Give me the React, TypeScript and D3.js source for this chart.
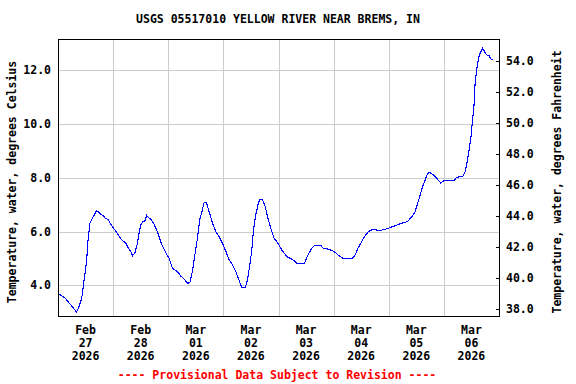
import React from 'react';
import * as d3 from 'd3';

// Hours after 2026-02-27 00:00 and the gage reading (degrees Celsius) at that time.
const hours = [
  0, 1.9, 3.4, 4.8, 6.3, 7.7, 8.0, 9.1, 10.3, 11.2, 11.8, 12.5, 13.1, 13.9, 14.7, 15.7, 16.7, 17.6, 18.3, 19.6,
  20.5, 21.8, 23.0, 24.4, 25.6, 26.9, 28.1, 29.5, 30.7, 31.7, 32.5, 33.5, 34.4, 35.3, 36.0, 36.9, 37.9, 38.6, 39.6,
  40.5, 41.6, 42.6, 43.6, 44.7, 45.7, 46.9, 48.4, 49.8, 52.0, 53.4, 54.9, 56.4, 57.4, 58.5, 59.7, 60.7, 61.7, 62.6,
  63.6, 64.6, 65.8, 67.3, 68.7, 70.1, 71.6, 73.1, 74.5, 76.0, 77.4, 78.8, 80.0, 81.5, 82.5, 83.5, 84.4, 85.1, 86.1,
  87.3, 88.0, 89.0, 90.2, 91.2, 92.6, 94.1, 95.6, 97.3, 98.4, 99.9, 101.4, 102.8, 104.3, 107.2, 108.2, 109.3, 110.5,
  111.9, 114.4, 115.4, 117.3, 119.5, 121.0, 122.4, 123.9, 128.2, 129.4, 130.4, 131.9, 133.0, 134.0, 135.2, 137.2,
  139.8, 142.7, 145.9, 149.7, 152.2, 154.1, 155.5, 156.6, 157.7, 158.7, 159.9, 160.9, 162.0, 163.4, 164.5, 165.7,
  166.7, 168.1, 172.5, 173.5, 176.2, 177.3, 178.3, 179.0, 179.8, 180.5, 181.1, 181.6, 182.4, 183.1, 183.8, 184.9,
  185.7, 186.6, 187.7, 188.5, 189.2,
];
const tempC = [
  3.7, 3.6, 3.5, 3.35, 3.2, 3.05, 3.0, 3.2, 3.5, 4.1, 4.45, 4.95, 5.7, 6.3, 6.45, 6.6, 6.78, 6.74, 6.66, 6.6,
  6.5, 6.44, 6.28, 6.1, 5.96, 5.78, 5.67, 5.57, 5.38, 5.26, 5.1, 5.22, 5.5, 5.94, 6.25, 6.37, 6.4, 6.6, 6.5,
  6.46, 6.31, 6.13, 5.91, 5.63, 5.42, 5.22, 5.0, 4.64, 4.51, 4.35, 4.23, 4.08, 4.1, 4.51, 5.2, 5.75, 6.44, 6.71,
  7.08, 7.08, 6.74, 6.31, 6.0, 5.81, 5.57, 5.26, 4.95, 4.76, 4.51, 4.2, 3.92, 3.92, 4.2, 4.76, 5.32, 6.06, 6.62,
  7.08, 7.2, 7.2, 6.93, 6.56, 6.13, 5.75, 5.59, 5.33, 5.2, 5.05, 4.99, 4.91, 4.8, 4.8, 5.01, 5.2, 5.38,
  5.49, 5.49, 5.38, 5.35, 5.29, 5.2, 5.1, 5.01, 5.01, 5.13, 5.35, 5.57, 5.75, 5.88, 6.0, 6.09,
  6.03, 6.09, 6.19, 6.31, 6.37, 6.56, 6.74, 7.06, 7.36, 7.67, 7.92, 8.17, 8.19, 8.11, 8.02, 7.9,
  7.8, 7.9, 7.9, 8.02, 8.05, 8.23, 8.67, 9.04, 9.53, 10.15, 10.65, 11.52, 12.07, 12.45, 12.63, 12.82,
  12.69, 12.57, 12.54, 12.41, 12.41,
];

const dayMonths = ['Feb', 'Feb', 'Mar', 'Mar', 'Mar', 'Mar', 'Mar', 'Mar'];
const dayNumbers = ['27', '28', '01', '02', '03', '04', '05', '06'];
const dayYears = ['2026', '2026', '2026', '2026', '2026', '2026', '2026', '2026'];
const celsiusTicks = [4, 6, 8, 10, 12];
const fahrenheitTicks = [38, 40, 42, 44, 46, 48, 50, 52, 54];

const title = 'USGS 05517010 YELLOW RIVER NEAR BREMS, IN';
const leftTitle = 'Temperature, water, degrees Celsius';
const rightTitle = 'Temperature, water, degrees Fahrenheit';
const footer = '---- Provisional Data Subject to Revision ----';

const W = 576;
const H = 384;
const left = 58;
const right = 499;
const top = 39;
const bottom = 316;
const font = '"DejaVu Sans Mono", monospace';

const start = Date.UTC(2026, 1, 27);
const hourMs = 3600 * 1000;

export default function App() {
  const x = d3.scaleUtc().domain([new Date(start), new Date(start + 8 * 24 * hourMs)]).range([left, right]);
  const y = d3.scaleLinear().domain([2.86, 13.16]).range([bottom, top]);
  // the Fahrenheit axis is drawn on its own scale, it does not line up exactly with the Celsius one
  const yF = d3.scaleLinear().domain([37.55, 55.4]).range([bottom, top]);

  const points = hours.map((h, i) => ({ t: new Date(start + h * hourMs), v: tempC[i] }));
  const line = d3.line<{ t: Date; v: number }>()
    .x(d => x(d.t))
    .y(d => y(d.v));

  const midnights = d3.range(1, 8).map(d => new Date(start + d * 24 * hourMs));
  const noons = dayMonths.map((_, i) => new Date(start + (i * 24 + 12) * hourMs));
  const px = (v: number) => Math.round(v) + 0.5;

  return (
    <svg width={W} height={H} style={{ position: 'absolute', left: 0, top: 0, background: '#fff' }}
      fontFamily={font} fontWeight="bold" fontSize={11.5}>
      <rect width={W} height={H} fill="#fff" />
      <text x={278} y={19} dy="0.35em" textAnchor="middle">{title}</text>

      {/* grid */}
      {midnights.map((d, i) => (
        <line key={'v' + i} x1={px(x(d))} x2={px(x(d))} y1={top} y2={bottom} stroke="#cccccc" />
      ))}
      {celsiusTicks.map(c => (
        <line key={'h' + c} x1={left} x2={right} y1={px(y(c))} y2={px(y(c))} stroke="#cccccc" />
      ))}

      <path d={line(points) ?? ''} fill="none" stroke="#0000ff" strokeWidth={1.1} shapeRendering="crispEdges" />

      <rect x={left + 0.5} y={top + 0.5} width={right - left} height={bottom - top} fill="none" stroke="#000" />

      {celsiusTicks.map(c => (
        <text key={'cl' + c} x={51} y={y(c)} dy="0.35em" textAnchor="end">{c.toFixed(1)}</text>
      ))}
      {fahrenheitTicks.map(f => (
        <g key={'f' + f}>
          <line x1={right - 3} x2={right} y1={px(yF(f))} y2={px(yF(f))} stroke="#000" />
          <text x={506} y={yF(f)} dy="0.35em">{f.toFixed(1)}</text>
        </g>
      ))}

      {noons.map((d, i) => (
        <text key={'x' + i} x={x(d)} textAnchor="middle">
          <tspan x={x(d)} y={330} dy="0.35em">{dayMonths[i]}</tspan>
          <tspan x={x(d)} y={343} dy="0.35em">{dayNumbers[i]}</tspan>
          <tspan x={x(d)} y={356} dy="0.35em">{dayYears[i]}</tspan>
        </text>
      ))}

      <text transform="translate(12,182) rotate(-90)" dy="0.35em" textAnchor="middle">{leftTitle}</text>
      <text transform="translate(557,182) rotate(-90)" dy="0.35em" textAnchor="middle">{rightTitle}</text>
      <text x={277} y={375} dy="0.35em" textAnchor="middle" fill="#ff0000">{footer}</text>
    </svg>
  );
}
